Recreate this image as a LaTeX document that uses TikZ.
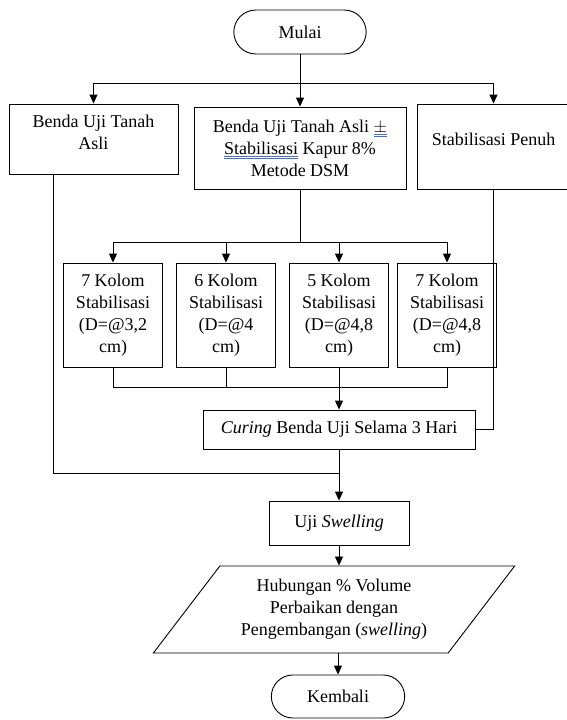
\documentclass[tikz,border=0pt]{standalone}
\usepackage{fontspec}
\setmainfont{Liberation Serif}
\usetikzlibrary{positioning, calc}
\usetikzlibrary{arrows.meta, shapes.misc, shapes.geometric}
\definecolor{markblue}{RGB}{70,110,220}
\newsavebox\spellbox
\newcommand{\spellmark}[1]{\sbox\spellbox{#1}\rlap{\color{markblue}\rule[-3pt]{\wd\spellbox}{0.7pt}\hspace{-\wd\spellbox}\rule[-5pt]{\wd\spellbox}{0.7pt}}\usebox\spellbox}

\begin{document}
\begin{tikzpicture}[x=1pt,y=-1pt,line width=0.9pt,
	every node/.style={font=\fontsize{18}{22}\selectfont,align=center},
	box/.style={draw,rectangle,inner sep=2pt},
	term/.style={draw,rounded rectangle,minimum width=139pt,minimum height=44pt},
	kolom/.style={box,minimum width=99pt,minimum height=104pt},
	io/.style={draw,trapezium,trapezium left angle=50,trapezium right angle=130,
		trapezium stretches=true,minimum width=362pt,minimum height=87pt},
	arr/.style={-{Triangle[width=8pt,length=9pt]}}]
\useasboundingbox (0,0) rectangle (566,720);

\node[term](mulai) at (300,32) {Mulai};
\node[box,minimum width=169pt,minimum height=70pt,text depth=14pt](asli) at (93.5,139) {Benda Uji Tanah\\Asli};
\node[box,minimum width=212pt,minimum height=82pt](dsm) at (300,148)
	{Benda Uji Tanah Asli \spellmark{$\pm$}\\\spellmark{Stabilisasi} Kapur 8\%\\Metode DSM};
\node[box,minimum width=153pt,minimum height=85pt,text depth=14pt](penuh) at (493.5,146.5) {Stabilisasi Penuh};

\node[kolom](k1) at (113,315) {7 Kolom\\Stabilisasi\\(D=@3,2\\cm)};
\node[kolom](k2) at (226,315) {6 Kolom\\Stabilisasi\\(D=@4\\cm)};
\node[kolom](k3) at (339,315) {5 Kolom\\Stabilisasi\\(D=@4,8\\cm)};
\node[kolom](k4) at (447,315) {7 Kolom\\Stabilisasi\\(D=@4,8\\cm)};

\node[box,minimum width=272pt,minimum height=39pt](curing) at (339,429.5) {\textit{Curing} Benda Uji Selama 3 Hari};
\node[box,minimum width=140pt,minimum height=44pt](swelling) at (339,523) {Uji \textit{Swelling}};
\node[io](hubungan) at (334,609.5) {Hubungan \% Volume\\Perbaikan dengan\\Pengembangan (\textit{swelling})};
\node[term,minimum width=140pt,minimum height=43pt](kembali) at (338,696.5) {Kembali};

\coordinate (split) at (300,83);
\coordinate (branch) at (300,242);
\coordinate (merge) at (339,387);
\coordinate (join) at (339,473);

\draw[arr] (mulai.south) -- (dsm.north);
\draw[arr] (split) -| (asli.north);
\draw[arr] (split) -| (penuh.north);

\draw (dsm.south) -- (branch);
\draw[arr] (branch) -| (k1.north);
\draw[arr] (branch) -| (k2.north);
\draw[arr] (branch) -| (k3.north);
\draw[arr] (branch) -| (k4.north);

\draw (k1.south) |- (merge);
\draw (k2.south) -- (k2.south |- merge);
\draw (k4.south) |- (merge);
\draw[arr] (k3.south) -- (curing.north);
\draw (penuh.south) |- (curing.east);
%\draw (asli.south) |- (join);
\draw (asli.south west) ++(45,0) |- (join);

\draw[arr] (curing.south) -- (swelling.north);
\draw[arr] (swelling.south) -- (swelling.south |- hubungan.north);
\draw[arr] (kembali.north |- hubungan.south) -- (kembali.north);
\end{tikzpicture}
\end{document}
